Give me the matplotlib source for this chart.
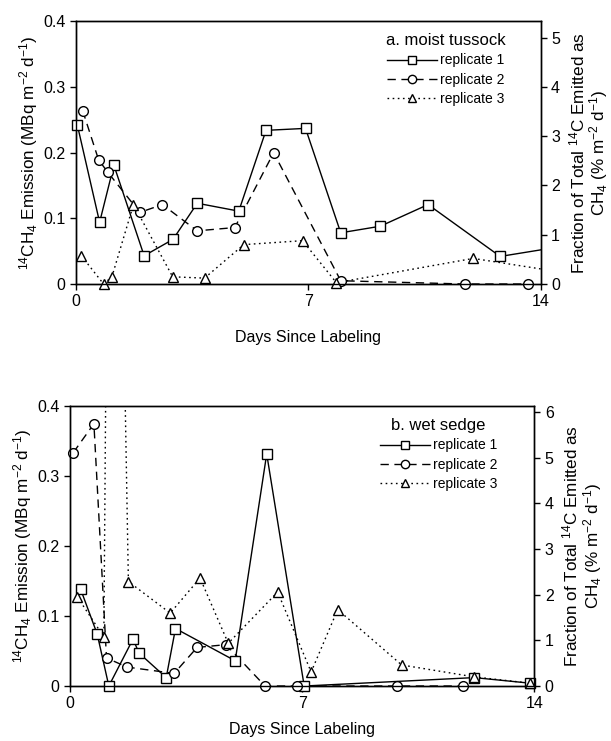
import matplotlib
matplotlib.use("Agg")
import matplotlib.pyplot as plt
import numpy as np
from matplotlib.ticker import FuncFormatter

plt.rcParams['font.family'] = ['Liberation Sans', 'DejaVu Sans']
plt.rcParams['mathtext.fontset'] = 'custom'
plt.rcParams['mathtext.rm'] = 'Liberation Sans'
plt.rcParams['mathtext.it'] = 'Liberation Sans:italic'
plt.rcParams['mathtext.bf'] = 'Liberation Sans:bold'

# ---- data: panel a (moist tussock) ----
days_a1 = [0.05, 0.72, 1.15, 2.06, 2.93, 3.66, 4.91, 5.73, 6.92, 7.98, 9.17, 10.61, 12.78, 14.0]
a1 = [0.242, 0.094, 0.181, 0.043, 0.068, 0.123, 0.111, 0.234, 0.237, 0.078, 0.088, 0.121, 0.042, 0.052]
days_a2 = [0.21, 0.69, 0.97, 1.93, 2.61, 3.66, 4.79, 5.96, 7.98, 11.72, 13.62]
a2 = [0.264, 0.189, 0.170, 0.109, 0.121, 0.081, 0.086, 0.200, 0.005, 0.0, 0.0]
days_a3 = [0.17, 0.84, 1.09, 1.74, 2.92, 3.88, 5.06, 6.83, 7.85, 11.97, 14.0]
a3 = [0.043, 0.0, 0.011, 0.121, 0.011, 0.009, 0.060, 0.066, 0.002, 0.039, 0.023]

# ---- data: panel b (wet sedge) ----
days_b1 = [0.32, 0.82, 1.17, 1.90, 2.08, 2.90, 3.18, 4.98, 5.93, 7.06, 12.19, 13.88]
b1 = [0.138, 0.074, 0.0, 0.067, 0.047, 0.012, 0.082, 0.036, 0.331, 0.0, 0.012, 0.004]
days_b2 = [0.10, 0.72, 1.10, 1.72, 3.14, 3.83, 4.70, 5.88, 6.84, 9.85, 11.84]
b2 = [0.333, 0.374, 0.040, 0.027, 0.018, 0.055, 0.059, 0.0, 0.0, 0.0, 0.0]
days_b3 = [0.22, 1.02, 1.25, 1.76, 3.02, 3.92, 4.77, 6.26, 7.27, 8.07, 10.00, 12.19, 13.88]
b3 = [0.127, 0.070, 1.5, 0.149, 0.104, 0.154, 0.061, 0.134, 0.020, 0.109, 0.030, 0.013, 0.004]

series_labels = ['replicate 1', 'replicate 2', 'replicate 3']
panel_titles = ['a. moist tussock', 'b. wet sedge']
xticks = [0, 7, 14]
left_ticks = [0, 0.1, 0.2, 0.3, 0.4]
right_ticks_a = [0, 1, 2, 3, 4, 5]
right_ticks_b = [0, 1, 2, 3, 4, 5, 6]

styles = [dict(ls='-', marker='s'),
          dict(ls=(0, (6, 4)), marker='o'),
          dict(ls=(0, (1.2, 2.5)), marker='^')]

fig = plt.figure(figsize=(6.11, 7.41), dpi=100)
ax_a = fig.add_axes([0.1239, 0.6167, 0.761, 0.3545])
ax_b = fig.add_axes([0.1146, 0.0742, 0.760, 0.3785])

FS = 11.5
LFS = 12.3


def draw(ax, days_list, vals_list, title, rticks, rtop, legend_anchor, xlabelpad):
    handles = []
    for (d, v), st, lab in zip(zip(days_list, vals_list), styles, series_labels):
        d = np.array(d); v = np.array(v)
        ax.plot(d, v, color='black', lw=1.0, ls=st['ls'], clip_on=True, zorder=2)
        m = (d < 14) & (v <= 0.4)
        ax.plot(d[m], v[m], ls='none', marker=st['marker'], ms=7 if st['marker'] != 's' else 6.5,
                mfc='white', mec='black', mew=1.0, clip_on=False, zorder=3)
        h, = ax.plot([], [], color='black', lw=1.0, ls=st['ls'], marker=st['marker'],
                     ms=6, mfc='white', mec='black', mew=1.0, label=lab)
        handles.append(h)
    ax.set_xlim(0, 14)
    ax.set_ylim(0, 0.4)
    ax.set_xticks(xticks)
    ax.set_yticks(left_ticks)
    ax.yaxis.set_major_formatter(FuncFormatter(lambda x, p: '%g' % x))
    ax.tick_params(direction='out', length=4, width=1, labelsize=FS)
    ax.tick_params(axis='x', pad=3)
    for s in ax.spines.values():
        s.set_linewidth(1.0)
    ax.set_xlabel('Days Since Labeling', fontsize=FS, labelpad=xlabelpad)
    ax.set_ylabel('$^{14}$CH$_4$ Emission (MBq m$^{-2}$ d$^{-1}$)', fontsize=LFS, labelpad=2)
    ax.legend(handles=handles, title=title, loc='upper right', bbox_to_anchor=legend_anchor,
              frameon=False, fontsize=10, title_fontsize=12, handlelength=3.6,
              handletextpad=0.2, labelspacing=0.38, borderaxespad=0.0, borderpad=0.0,
              alignment='center')
    ax2 = ax.twinx()
    ax2.set_ylim(0, rtop)
    ax2.set_yticks(rticks)
    ax2.tick_params(direction='out', length=4, width=1, labelsize=FS)
    for s in ax2.spines.values():
        s.set_linewidth(1.0)
    ax2.set_ylabel('Fraction of Total $^{14}$C Emitted as\nCH$_4$ (% m$^{-2}$ d$^{-1}$)',
                   fontsize=LFS, labelpad=5, linespacing=1.0)
    return ax2


draw(ax_a, [days_a1, days_a2, days_a3], [a1, a2, a3], panel_titles[0], right_ticks_a, 5.33,
     (0.925, 0.955), 15)
draw(ax_b, [days_b1, days_b2, days_b3], [b1, b2, b3], panel_titles[1], right_ticks_b, 6.14,
     (0.92, 0.955), 8)

fig.savefig('out.png', dpi=100)
